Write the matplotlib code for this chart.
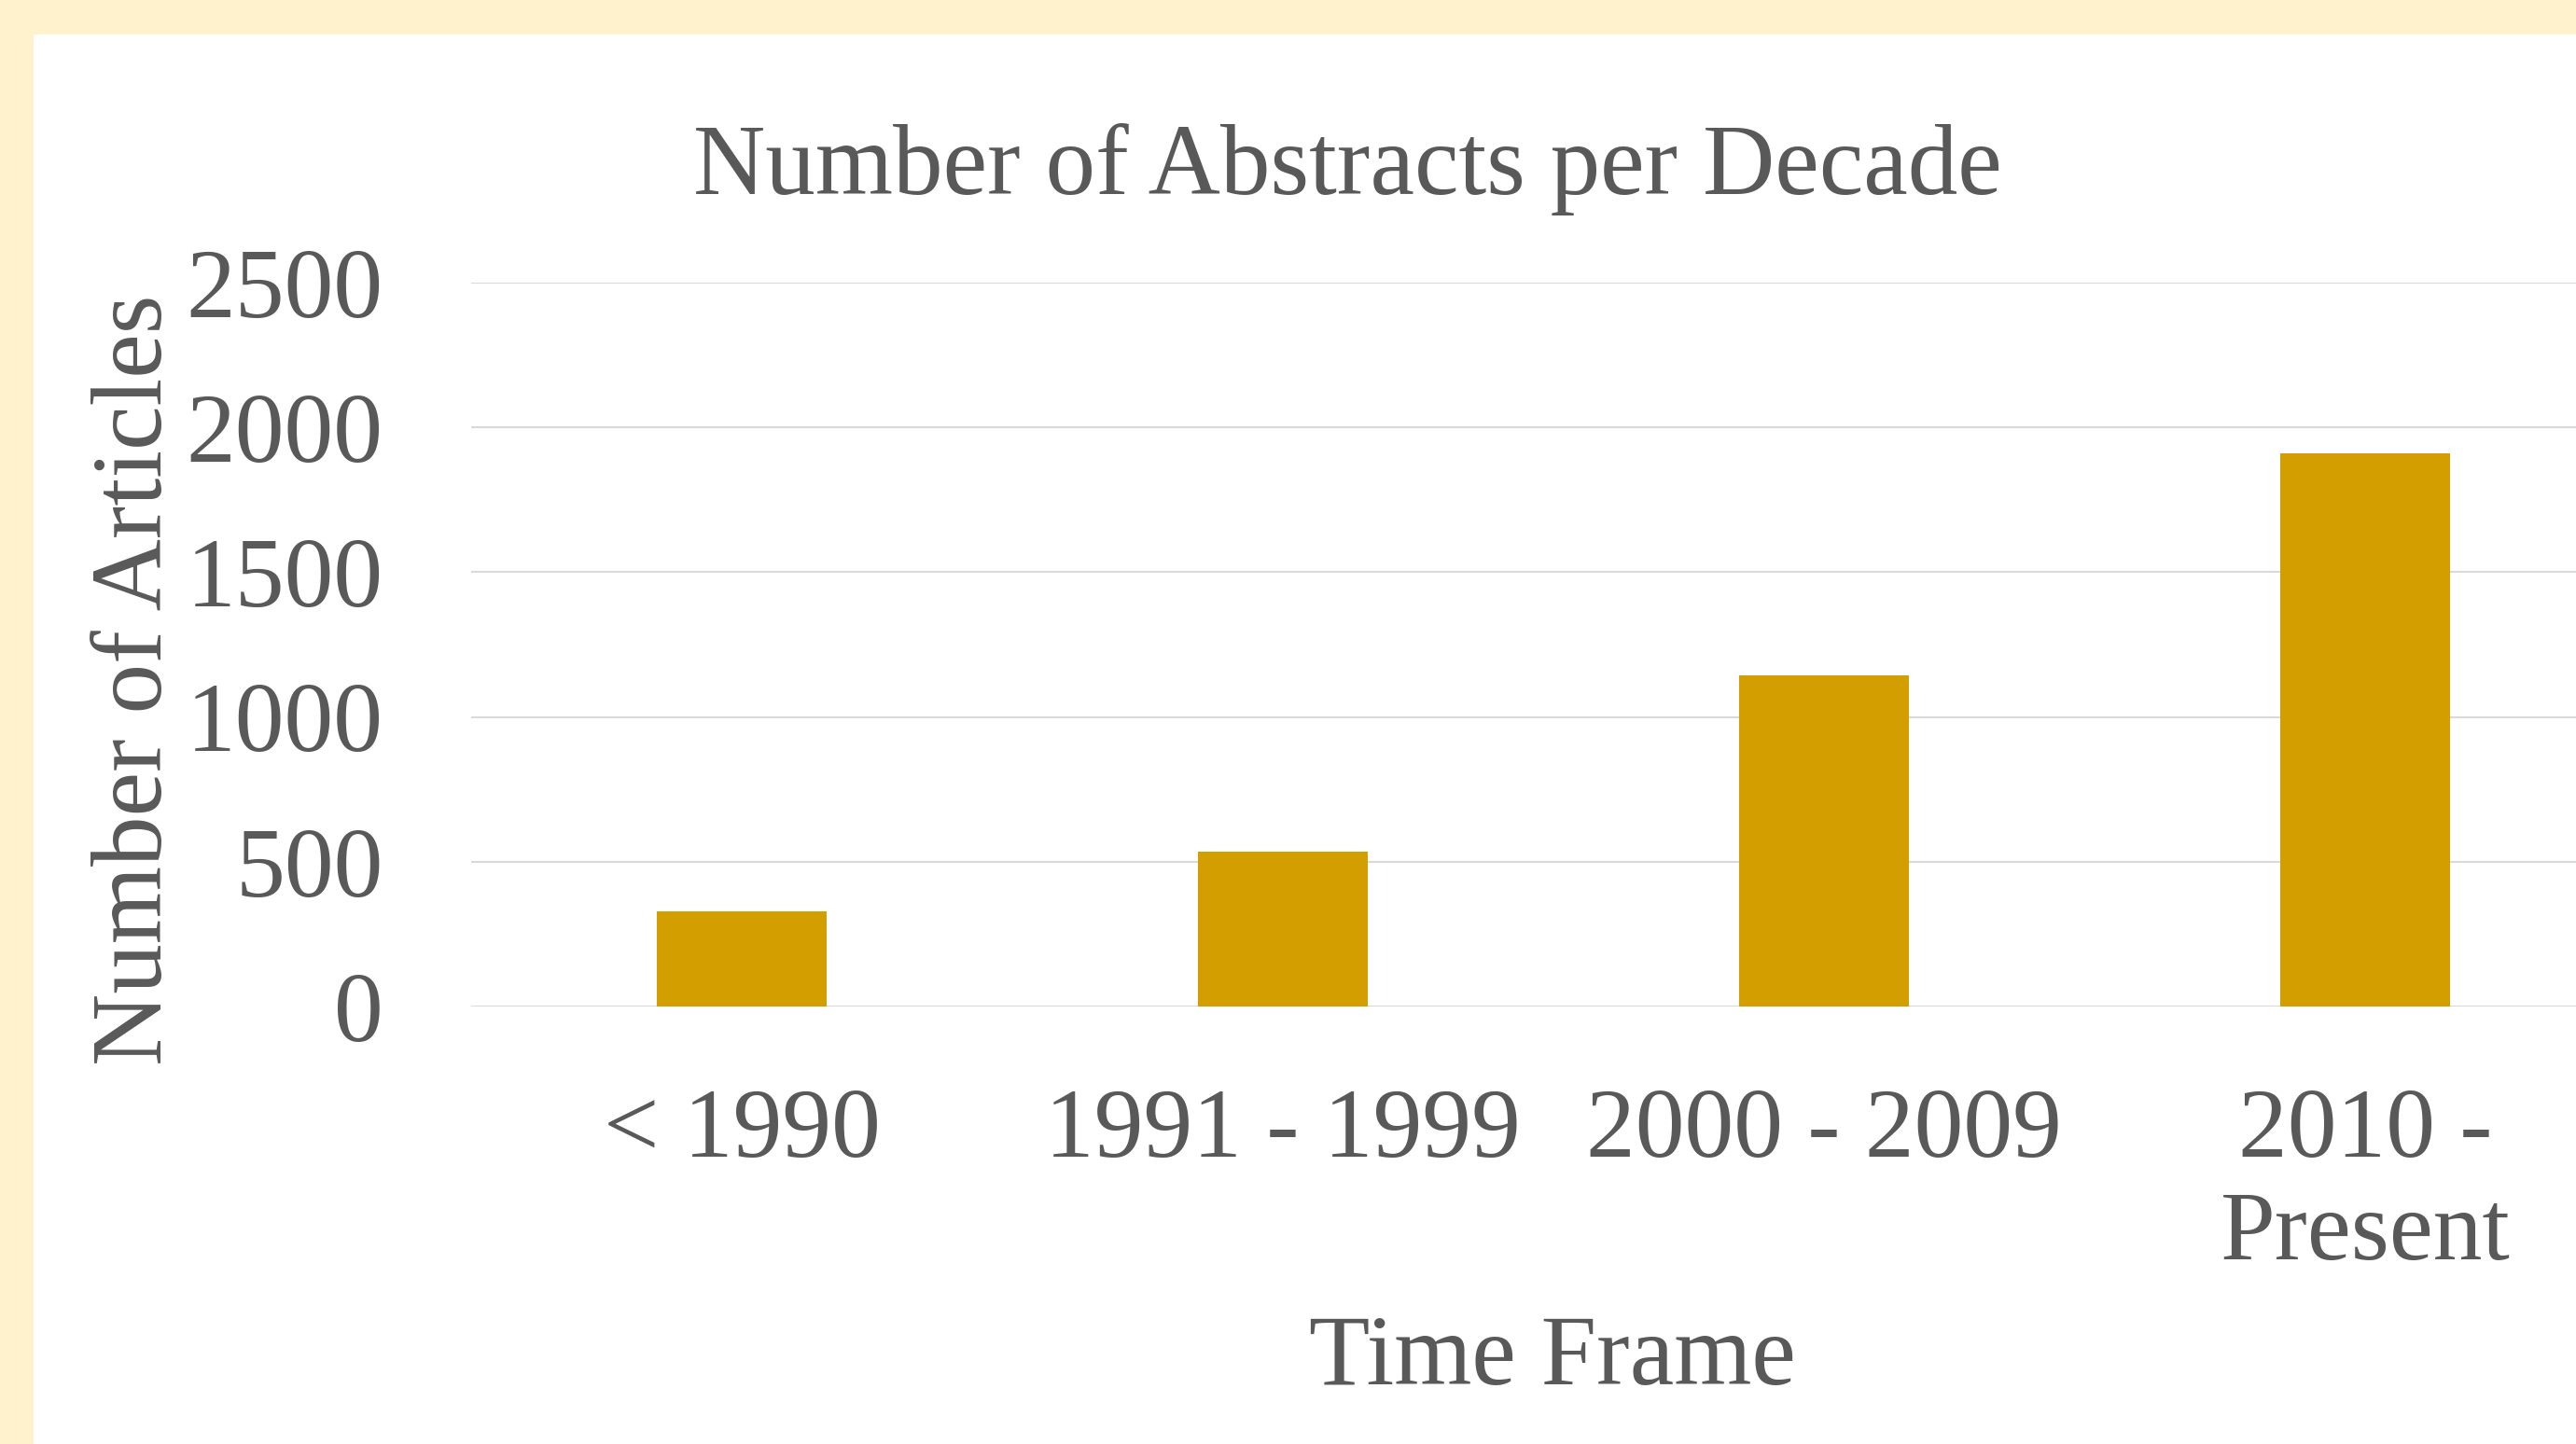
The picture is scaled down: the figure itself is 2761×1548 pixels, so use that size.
"""Number of Abstracts per Decade — bar chart."""
import matplotlib
matplotlib.use("Agg")
import matplotlib.pyplot as plt
from matplotlib.patches import Rectangle

categories = ["< 1990", "1991 - 1999", "2000 - 2009", "2010 -\nPresent"]
articles = [327, 534, 1144, 1910]
yticks = [0, 500, 1000, 1500, 2000, 2500]

W, H = 2761, 1548
TEXT = "#595959"
BAR = "#D39F00"
GRID = "#D9D9D9"
CREAM = "#FFF2CC"


def main() -> None:
    plt.rcParams.update({
        "font.family": ["Liberation Serif", "DejaVu Serif"],
        "text.color": TEXT,
    })
    fig = plt.figure(figsize=(W / 100, H / 100), dpi=100, facecolor=CREAM)
    # white chart panel, cream band on top and left
    fig.patches.append(Rectangle((36 / W, 0), 1, (H - 37) / H, transform=fig.transFigure,
                                 facecolor="white", edgecolor="none", zorder=-5))

    ax = fig.add_axes([505 / W, (H - 1079) / H, 2320 / W, (1079 - 303) / H])
    ax.set_zorder(2)
    ax.set_facecolor("none")
    x = range(len(categories))
    ax.bar(x, articles, width=0.314, color=BAR, zorder=3)
    ax.set_xlim(-0.5, len(categories) - 0.5)
    ax.set_ylim(0, 2500)
    ax.set_yticks(yticks)
    ax.set_yticklabels([str(v) for v in yticks], fontsize=76, color=TEXT)
    ax.set_xticks(list(x))
    ax.set_xticklabels(categories, fontsize=76, color=TEXT, linespacing=1.18)
    ax.tick_params(length=0)
    ax.tick_params(axis="y", pad=68)
    ax.tick_params(axis="x", pad=63)
    ax.grid(axis="y", color=GRID, linewidth=1.5, zorder=0)
    for s in ax.spines.values():
        s.set_visible(False)

    fig.text(1444 / W, 1 - 208 / H, "Number of Abstracts per Decade", fontsize=77,
             ha="center", va="baseline", color=TEXT)
    fig.text(1664 / W, 1 - 1484 / H, "Time Frame", fontsize=77,
             ha="center", va="baseline", color=TEXT)
    fig.text(173 / W, 1 - 729 / H, "Number of Articles", fontsize=77, rotation=90,
             rotation_mode="anchor", ha="center", va="baseline", color=TEXT)

    fig.savefig("out.png", dpi=100, facecolor=CREAM)


if __name__ == "__main__":
    main()
